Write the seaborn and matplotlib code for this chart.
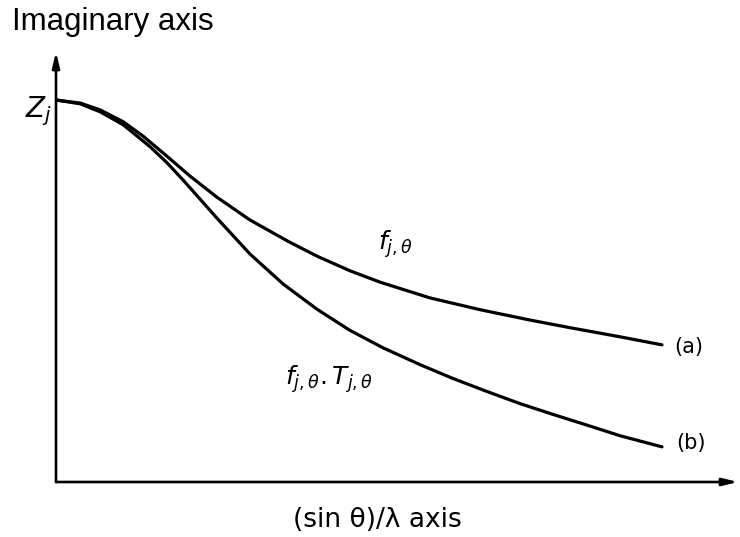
import pandas as pd
import matplotlib
matplotlib.use("Agg")
import matplotlib.pyplot as plt
import seaborn as sns

# values, normalised: x = 1 at the curve ends, y = 1 at Z_j
x_a = [0.0, 0.040, 0.073, 0.111, 0.144, 0.183, 0.221, 0.266, 0.320, 0.383,
       0.431, 0.485, 0.535, 0.617, 0.700, 0.782, 0.848, 0.931, 1.0]
y_a = [1.0, 0.992, 0.974, 0.943, 0.905, 0.853, 0.801, 0.745, 0.686, 0.630,
       0.591, 0.553, 0.523, 0.482, 0.451, 0.424, 0.404, 0.380, 0.359]

x_b = [0.0, 0.040, 0.073, 0.111, 0.155, 0.183, 0.210, 0.238, 0.266, 0.320,
       0.375, 0.431, 0.485, 0.540, 0.601, 0.655, 0.711, 0.766, 0.820, 0.876,
       0.931, 1.0]
y_b = [1.0, 0.990, 0.969, 0.935, 0.878, 0.836, 0.790, 0.740, 0.690, 0.597,
       0.518, 0.452, 0.397, 0.351, 0.307, 0.271, 0.237, 0.205, 0.177, 0.149,
       0.121, 0.092]

curve_names = ["(a)", "(b)"]

df = pd.concat([
    pd.DataFrame({"x": x_a, "y": y_a, "curve": curve_names[0]}),
    pd.DataFrame({"x": x_b, "y": y_b, "curve": curve_names[1]}),
])

sns.set_style("white")
plt.rcParams['font.family'] = ['DejaVu Sans']
plt.rcParams['mathtext.fontset'] = 'dejavusans'
plt.rcParams['text.color'] = 'black'

fig = plt.figure(figsize=(7.4, 5.37), dpi=100)
W, H = 740, 537
# axes box: x 56..738 px, y 52..482 px
ax = fig.add_axes([56 / W, (H - 482) / H, (738 - 56) / W, (482 - 52) / H])

sns.lineplot(data=df, x="x", y="y", units="curve", estimator=None, sort=False,
             color="black", linewidth=2.3, ax=ax, legend=False,
             solid_joinstyle="round", solid_capstyle="round")

ax.set_xlim(0, (738 - 56) / 606)
ax.set_ylim(0, (482 - 52) / 382)
ax.set_xticks([])
ax.set_yticks([])
ax.set_xlabel("")
ax.set_ylabel("")
for s in ax.spines.values():
    s.set_visible(False)

# axes with arrow heads
arrow = dict(arrowstyle="-|>,head_length=0.9,head_width=0.22", lw=1.9,
             color="black", shrinkA=0, shrinkB=0)
ax.annotate("", xy=(1, 0), xytext=(0, 0), xycoords="axes fraction",
            arrowprops=arrow, annotation_clip=False)
ax.annotate("", xy=(0, 1), xytext=(0, 0), xycoords="axes fraction",
            arrowprops=arrow, annotation_clip=False)

# labels
ax.text(-0.007, 0.955, r"$Z_j$", fontsize=20, ha="right", va="baseline", clip_on=False)
ax.text(0.531, 0.607, r"$f_{j,\theta}$", fontsize=18, ha="left", va="baseline")
ax.text(0.378, 0.254, r"$f_{j,\theta}.T_{j,\theta}$", fontsize=18, ha="left", va="baseline")
ax.text(1.021, 0.353, curve_names[0], fontsize=15, ha="left", va="center", clip_on=False)
ax.text(1.024, 0.102, curve_names[1], fontsize=15, ha="left", va="center", clip_on=False)
ax.text(0.531, -0.0995, r"(sin θ)/λ axis", fontsize=19, ha="center", va="center",
        clip_on=False)

fig.text(12 / W, (H - 30) / H, "Imaginary axis", fontsize=22.5,
         family="Liberation Sans", ha="left", va="baseline")

fig.savefig("out.png", dpi=100)
